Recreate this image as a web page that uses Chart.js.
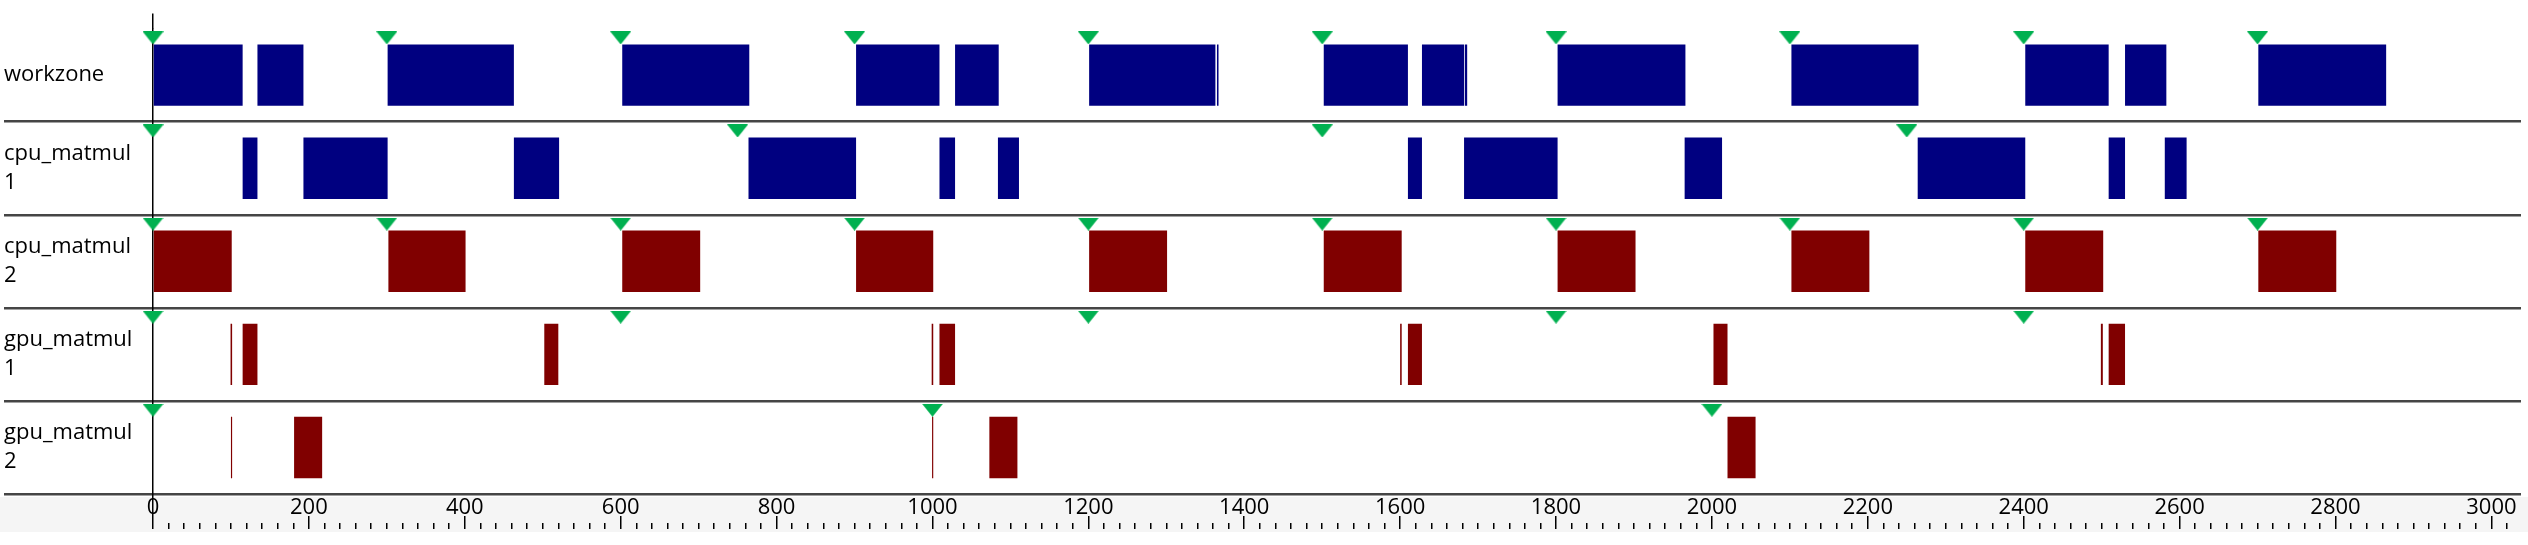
<!DOCTYPE html>
<html>
<head>
<meta charset="utf-8">
<script src="https://cdn.jsdelivr.net/npm/chart.js@4.4.1/dist/chart.umd.min.js"></script>
<style>
  html, body { margin: 0; padding: 0; background: #ffffff; overflow: hidden; }
  #wrap { width: 2528px; height: 545px; position: relative; }
</style>
</head>
<body>
<div id="wrap"><canvas id="c" width="2528" height="545"></canvas></div>
<script>
// ---------------- DATA ----------------
const rows = ['workzone', 'cpu_matmul 1', 'cpu_matmul 2', 'gpu_matmul 1', 'gpu_matmul 2'];

const workzoneSpans = [[0,115],[134,193],[301,463],[602,765],[902,1009],[1029,1085],[1201,1363],[1365,1367],
  [1502,1610],[1628,1682],[1683,1686],[1802,1966],[2102,2265],[2402,2509],[2530,2583],[2701,2865]];
const cpu1Spans = [[115,134],[193,301],[463,521],[764,902],[1009,1029],[1084,1111],[1610,1628],[1682,1802],
  [1965,2013],[2264,2402],[2509,2530],[2581,2609]];
const cpu2Spans = [[0,101],[302,401],[602,702],[902,1001],[1201,1301],[1502,1602],[1802,1902],[2102,2202],
  [2402,2502],[2701,2801]];
const gpu1Spans = [[99.5,101.5],[115,134],[502,520],[999,1001],[1009,1029],[1600,1602],[1610,1628],[2002,2020],
  [2499,2501.5],[2509,2530]];
const gpu2Spans = [[100,101.5],[181,217],[999.5,1001],[1073,1109],[2020,2056]];

const workzoneMarks = [0,300,600,900,1200,1500,1800,2100,2400,2700];
const cpu1Marks = [0,750,1500,2250];
const cpu2Marks = [0,300,600,900,1200,1500,1800,2100,2400,2700];
const gpu1Marks = [0,600,1200,1800,2400];
const gpu2Marks = [0,1000,2000];

const majorTicks = [0,200,400,600,800,1000,1200,1400,1600,1800,2000,2200,2400,2600,2800,3000];
const minorStep = 20;
const xMin = 0, xMax = 3038;

// ---------------- STYLE ----------------
const NAVY = '#000080', MAROON = '#800000', GREEN = '#00b050', SEP = '#454545';
const FONT = "'Open Sans', 'Noto Sans', sans-serif";
const rowColors = [NAVY, NAVY, MAROON, MAROON, MAROON];
const MARKER_SHIFT = -0.4; // marker sits at top of row (in row units)

function triangleImage(w, h, color) {
  const c = document.createElement('canvas');
  c.width = w; c.height = h;
  const g = c.getContext('2d');
  g.fillStyle = color;
  g.beginPath(); g.moveTo(0, 0); g.lineTo(w, 0); g.lineTo(w / 2, h); g.closePath(); g.fill();
  return c;
}

const spanSets = [workzoneSpans, cpu1Spans, cpu2Spans, gpu1Spans, gpu2Spans];
const markSets = [workzoneMarks, cpu1Marks, cpu2Marks, gpu1Marks, gpu2Marks];

const barDatasets = spanSets.map((spans, r) => ({
  type: 'bar',
  indexAxis: 'y',
  data: spans.map(s => ({ y: rows[r], x: s })),
  backgroundColor: rowColors[r],
  borderWidth: 0,
  grouped: false,
  barPercentage: 0.66,
  categoryPercentage: 1,
  xAxisID: 'x',
  yAxisID: 'y',
  order: 2
}));

const markerDataset = {
  type: 'scatter',
  data: markSets.flatMap((m, r) => m.map(t => ({ x: t, y: r + MARKER_SHIFT }))),
  pointStyle: triangleImage(21, 13, GREEN),
  pointRadius: 6,
  pointHoverRadius: 6,
  xAxisID: 'x',
  yAxisID: 'y2',
  clip: false,
  order: 0
};

const black0 = c => (c.tick && c.tick.value === 0 ? '#000000' : 'rgba(0,0,0,0)');

const bandPlugin = {
  id: 'band',
  beforeDraw(chart) {
    const { ctx, chartArea } = chart;
    ctx.save();
    ctx.fillStyle = '#f5f5f5';
    ctx.fillRect(0, chartArea.bottom + 3, chart.width, 35);
    ctx.restore();
  }
};

new Chart(document.getElementById('c'), {
  type: 'bar',
  data: { labels: rows, datasets: [markerDataset, ...barDatasets] },
  plugins: [bandPlugin],
  options: {
    indexAxis: 'y',
    responsive: false,
    animation: false,
    events: [],
    layout: { padding: { top: 9, left: 4, right: 0, bottom: 16 } },
    plugins: { legend: { display: false }, tooltip: { enabled: false } },
    scales: {
      y: {
        type: 'category',
        axis: 'y',
        position: 'left',
        labels: rows,
        offset: true,
        border: { display: false },
        grid: {
          offset: true,
          drawOnChartArea: true,
          drawTicks: true,
          tickLength: 149,
          lineWidth: 2.5,
          color: c => (c.index === 0 ? 'rgba(0,0,0,0)' : SEP),
          tickColor: c => (c.index === 0 ? 'rgba(0,0,0,0)' : SEP)
        },
        ticks: {
          crossAlign: 'far',
          padding: 0,
          color: '#000000',
          font: { family: FONT, size: 22, lineHeight: 1.3 },
          autoSkip: false,
          callback: v => rows[v].split(' ')
        },
        afterFit: s => { s.width = 149; }
      },
      y2: {
        type: 'linear',
        axis: 'y',
        position: 'left',
        display: false,
        offset: false,
        reverse: true,
        min: -0.5,
        max: 4.5
      },
      xTop: {
        type: 'linear',
        axis: 'x',
        position: 'top',
        min: xMin, max: xMax,
        border: { display: false },
        grid: { drawOnChartArea: false, drawTicks: true, tickLength: 15, lineWidth: 1.5, color: black0, tickColor: black0 },
        ticks: { display: false, autoSkip: false },
        afterBuildTicks: s => { s.ticks = majorTicks.map(v => ({ value: v })); }
      },
      x: {
        type: 'linear',
        axis: 'x',
        position: 'bottom',
        weight: 0,
        min: xMin, max: xMax,
        border: { display: false },
        grid: { drawOnChartArea: true, drawTicks: true, tickLength: 22, lineWidth: 1.5, color: black0, tickColor: black0 },
        ticks: {
          autoSkip: false,
          maxRotation: 0,
          padding: -21,
          color: '#000000',
          font: { family: FONT, size: 22 },
          callback: v => String(v)
        },
        afterBuildTicks: s => { s.ticks = majorTicks.map(v => ({ value: v })); },
        afterFit: s => { s.height = 22; }
      },
      xMajor: {
        type: 'linear',
        axis: 'x',
        position: 'bottom',
        weight: 1,
        min: xMin, max: xMax,
        border: { display: false },
        grid: { drawOnChartArea: false, drawTicks: true, tickLength: 7, lineWidth: 1.5, color: '#000000', tickColor: '#000000' },
        ticks: { display: false, autoSkip: false },
        afterBuildTicks: s => { s.ticks = majorTicks.map(v => ({ value: v })); }
      },
      xMinor: {
        type: 'linear',
        axis: 'x',
        position: 'bottom',
        weight: 2,
        min: xMin, max: xMax,
        border: { display: false },
        grid: { drawOnChartArea: false, drawTicks: true, tickLength: 6, lineWidth: 1.5, color: '#000000', tickColor: '#000000' },
        ticks: { display: false, autoSkip: false, stepSize: minorStep, includeBounds: false }
      }
    }
  }
});
</script>
</body>
</html>
